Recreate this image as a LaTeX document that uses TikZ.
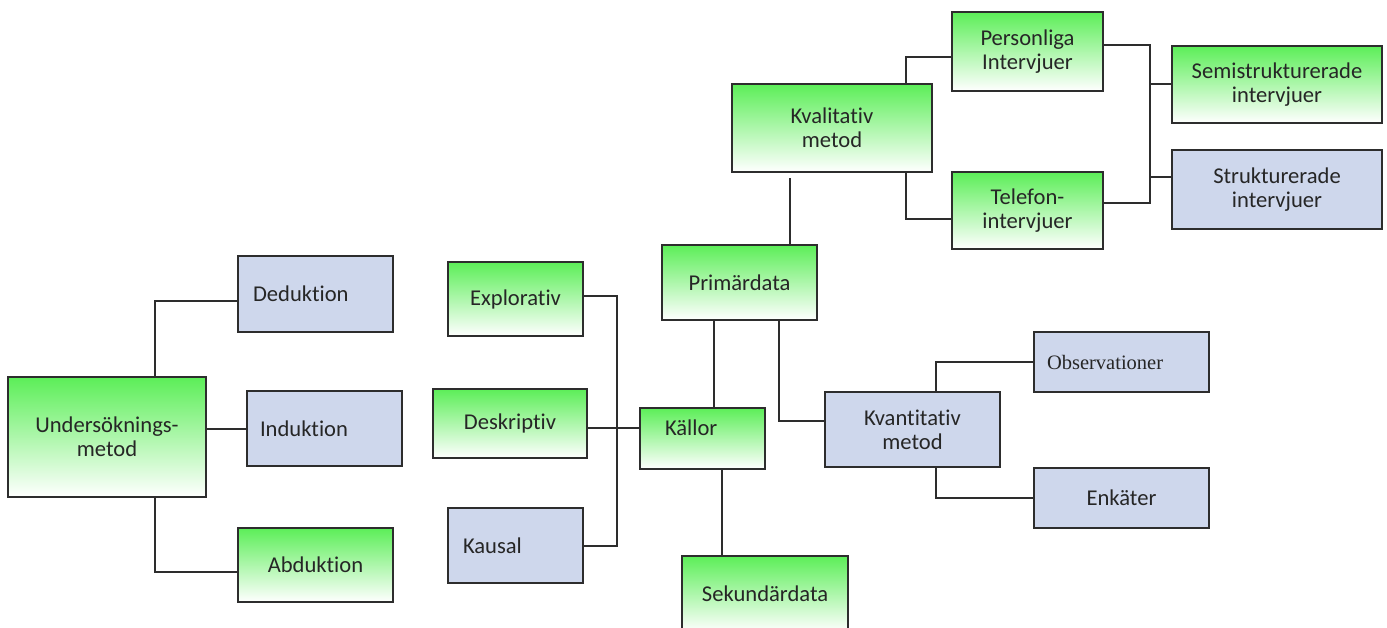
\documentclass[tikz,border=0pt]{standalone}
\usepackage{fontspec}
\setmainfont{Carlito}[Ligatures={NoCommon}]
\newfontfamily\obsfont{Liberation Serif}

\definecolor{greentop}{RGB}{92,238,88}
\definecolor{boxblue}{RGB}{206,215,236}
\definecolor{linegray}{RGB}{45,45,45}

\tikzset{
  box/.style={draw=linegray, line width=2pt, inner sep=0pt, align=center,
    text=black!85, font=\fontsize{22.6}{24}\selectfont},
  greenbox/.style={box, top color=greentop, bottom color=white},
  bluebox/.style={box, fill=boxblue},
  padleft/.style 2 args={text width=#1, align=left, inner xsep=#2},
  link/.style={draw=linegray, line width=2pt},
}

\begin{document}
\begin{tikzpicture}[x=1pt, y=-1pt]
    \useasboundingbox (0,0) rectangle (1387,628);
    \clip (0,0) rectangle (1387,628);

    % Method boxes on the left
    \node[greenbox, minimum width=198pt, minimum height=120pt] (und) at (107,437) {Undersöknings-\\metod};
    \node[bluebox, minimum height=76pt, padleft={125pt}{15pt}] (ded) at (315.5,294) {Deduktion};
    \node[bluebox, minimum height=75pt, padleft={129pt}{13pt}] (ind) at (324.5,428.5) {Induktion};
    \node[greenbox, minimum width=155pt, minimum height=74pt] (abd) at (315.5,565) {Abduktion};

    % Study types
    \node[greenbox, minimum width=135pt, minimum height=74pt] (exp) at (515.5,299) {Explorativ};
    \node[greenbox, minimum width=154pt, minimum height=69pt] (des) at (510,423.5) {Deskriptiv};
    \node[bluebox, minimum height=75pt, padleft={105pt}{15pt}] (kau) at (515.5,545.5) {Kausal};

    % Sources
    \node[greenbox, minimum height=61pt, text depth=22pt, padleft={75pt}{25pt}] (kal) at (702.5,438.5) {Källor};
    \node[greenbox, minimum width=155pt, minimum height=75pt] (pri) at (739.5,282.5) {Primärdata};
    \node[greenbox, minimum width=166pt, minimum height=76pt] (sek) at (765,594) {Sekundärdata};

    % Qualitative branch
    \node[greenbox, minimum width=200pt, minimum height=88pt] (kval) at (832,128) {Kvalitativ\\metod};
    \node[greenbox, minimum width=151pt, minimum height=79pt] (pers) at (1027.5,51.5) {Personliga\\Intervjuer};
    \node[greenbox, minimum width=151pt, minimum height=77pt] (tel) at (1027.5,210.5) {Telefon-\\intervjuer};
    \node[greenbox, minimum width=210pt, minimum height=77pt] (semi) at (1277,84.5) {Semistrukturerade\\intervjuer};
    \node[bluebox, minimum width=210pt, minimum height=79pt] (str) at (1277,189.5) {Strukturerade\\intervjuer};

    % Quantitative branch
    \node[bluebox, minimum width=175pt, minimum height=75pt] (kvan) at (912.5,429.5) {Kvantitativ\\metod};
    \node[bluebox, minimum height=60pt, padleft={149pt}{13pt}, font=\obsfont\fontsize{20.5}{24}\selectfont] (obs) at (1121.5,362) {Observationer};
    \node[bluebox, minimum width=175pt, minimum height=60pt] (enk) at (1121.5,498) {Enkäter};

    % Junction points
    \coordinate (sidebar) at (617,428);
    \coordinate (join) at (1150,124);
    \coordinate (strin) at ([yshift=12.5pt]str.west);

    % Connectors
    \draw[link] ([xshift=48pt]und.north) |- ([yshift=-7pt]ded.west);
    \draw[link] (und.east |- ind.west) -- (ind.west);
    \draw[link] ([xshift=48pt]und.south) |- ([yshift=-7pt]abd.west);

    \draw[link] ([yshift=3pt]exp.east) -| (sidebar) |- (kau.east);
    \draw[link] (des.east |- sidebar) -- (kal.west |- sidebar);

    \draw[link] ([xshift=11.5pt]kal.north) -- ([xshift=11.5pt]kal.north |- pri.south);
    \draw[link] ([xshift=19.5pt]kal.south) -- ([xshift=19.5pt]kal.south |- sek.north);
    \draw[link] ([xshift=39.5pt]pri.south) |- ([yshift=8.5pt]kvan.west);
    \draw[link] ([xshift=50.5pt]pri.north) -- ([xshift=50.5pt,yshift=-5pt]pri.north |- kval.south);

    \draw[link] ([xshift=74pt]kval.north) |- ([yshift=-5.5pt]pers.west);
    \draw[link] ([xshift=74pt]kval.south) |- ([yshift=-8.5pt]tel.west);
    \draw[link] ([yshift=6.5pt]pers.east) -| (join) |- ([yshift=7.5pt]tel.east);
    \draw[link] (join |- semi.west) -- (semi.west);
    \draw[link] (strin -| join) -- (strin);

    \draw[link] ([xshift=23.5pt]kvan.north) |- (obs.west);
    \draw[link] ([xshift=23.5pt]kvan.south) |- (enk.west);
\end{tikzpicture}
\end{document}
